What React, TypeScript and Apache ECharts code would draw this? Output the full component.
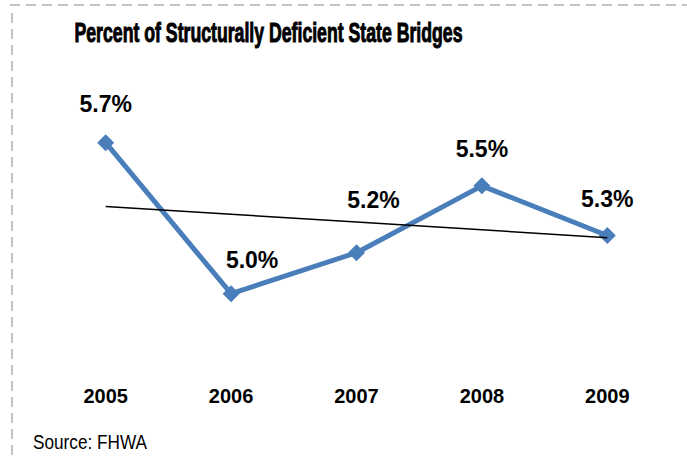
import React, { useEffect, useRef } from "react";
import * as echarts from "echarts";

const years = ["2005", "2006", "2007", "2008", "2009"];
const percentDeficient = [5.7, 5.0, 5.19, 5.5, 5.27];
const titleText = "Percent of Structurally Deficient State Bridges";
const sourceText = "Source: FHWA";

// label offsets relative to each point (px), as placed in the original
const labelOffsets: [number, number][] = [
  [0, -39],
  [21, -34],
  [17, -53],
  [0, -37],
  [0, -36],
];

function linearTrend(vals: number[]): number[] {
  const n = vals.length;
  const xm = (n - 1) / 2;
  const ym = vals.reduce((a, b) => a + b, 0) / n;
  let sxy = 0;
  let sxx = 0;
  vals.forEach((v, i) => {
    sxy += (i - xm) * (v - ym);
    sxx += (i - xm) * (i - xm);
  });
  const slope = sxy / sxx;
  return vals.map((_, i) => ym + slope * (i - xm));
}

export default function App() {
  const ref = useRef<HTMLDivElement>(null);
  useEffect(() => {
    if (!ref.current) return;
    const chart = echarts.init(ref.current, undefined, { renderer: "svg" });
    const trend = linearTrend(percentDeficient);
    const border = "#c4c4c4";
    chart.setOption({
      animation: false,
      backgroundColor: "#ffffff",
      grid: { left: 43, right: 17, top: 78, height: 302 },
      xAxis: {
        type: "category",
        data: years,
        boundaryGap: true,
        axisLine: { show: false },
        axisTick: { show: false },
        axisLabel: {
          margin: 6,
          fontFamily: "Liberation Sans, Arial, sans-serif",
          fontWeight: "bold",
          fontSize: 20,
          color: "#000",
        },
      },
      yAxis: {
        type: "value",
        min: 4.6,
        max: 6.0,
        show: false,
        splitLine: { show: false },
      },
      series: [
        {
          type: "line",
          data: percentDeficient.map((v, i) => ({
            value: v,
            label: { offset: labelOffsets[i] },
          })),
          lineStyle: { color: "#4a7ebb", width: 5 },
          itemStyle: { color: "#4a7ebb" },
          symbol: "diamond",
          symbolSize: 17,
          z: 2,
          label: {
            show: true,
            position: "inside",
            align: "center",
            verticalAlign: "middle",
            formatter: (p: any) => Number(p.value).toFixed(1) + "%",
            fontFamily: "Liberation Sans, Arial, sans-serif",
            fontWeight: "bold",
            fontSize: 23,
            color: "#000",
          },
        },
        {
          type: "line",
          data: trend,
          symbol: "none",
          silent: true,
          lineStyle: { color: "#000", width: 1.5 },
          z: 3,
        },
      ],
      graphic: [
        {
          type: "line",
          shape: { x1: 10, y1: 5, x2: 687, y2: 5 },
          style: { stroke: border, lineWidth: 2, lineDash: [10, 6] },
        },
        {
          type: "line",
          shape: { x1: 12, y1: 13, x2: 12, y2: 456 },
          style: { stroke: border, lineWidth: 2, lineDash: [10, 6] },
        },
        {
          type: "text",
          x: 268.5,
          y: 33,
          scaleX: 0.655,
          style: {
            text: titleText,
            fontFamily: "Liberation Sans, Arial, sans-serif",
            fontWeight: "bold",
            fontSize: 27,
            fill: "#000",
            stroke: "#000",
            lineWidth: 1,
            align: "center",
            verticalAlign: "middle",
          },
        },
        {
          type: "text",
          x: 33,
          y: 442,
          scaleX: 0.86,
          style: {
            text: sourceText,
            fontFamily: "Liberation Sans, Arial, sans-serif",
            fontSize: 20,
            fill: "#000",
            align: "left",
            verticalAlign: "middle",
          },
        },
      ],
    });
    return () => chart.dispose();
  }, []);
  return (
    <div
      ref={ref}
      style={{ position: "fixed", left: 0, top: 0, width: 687, height: 456 }}
    />
  );
}
